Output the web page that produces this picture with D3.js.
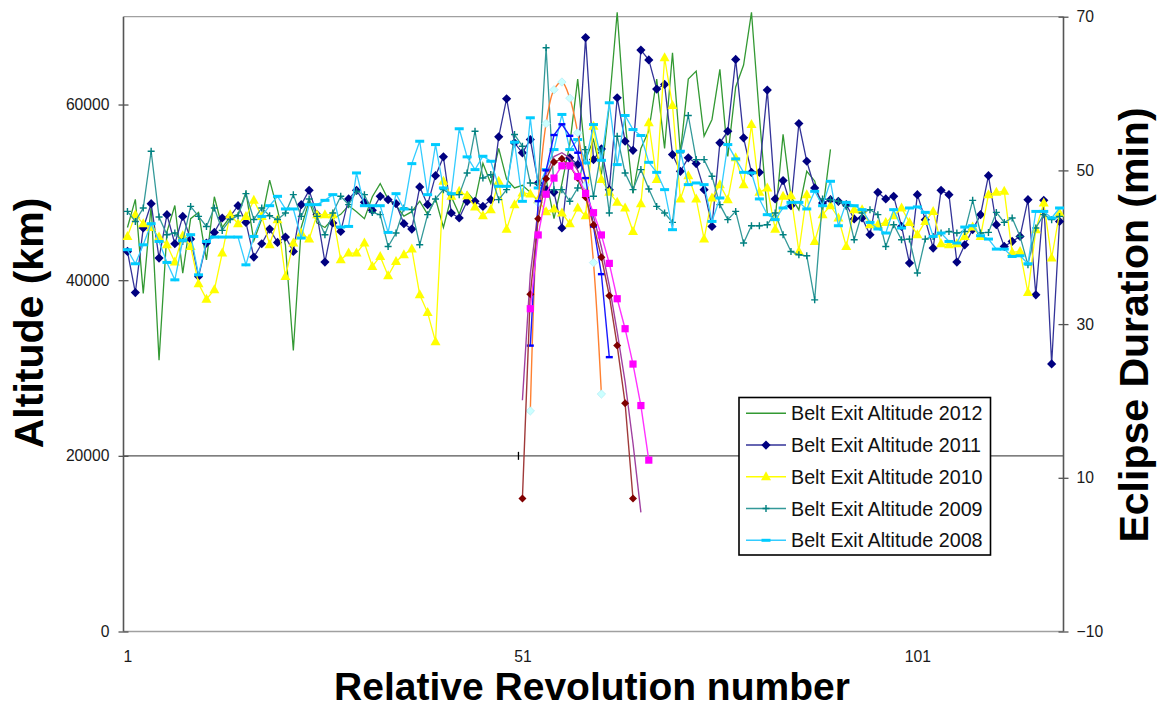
<!DOCTYPE html>
<html>
<head>
<meta charset="utf-8">
<script src="https://cdn.jsdelivr.net/npm/d3@7"></script>
<style>
body { margin: 0; background: #fff; }
text { font-family: "Liberation Sans", Arial, sans-serif; }
</style>
</head>
<body>
<svg id="drawsvg" width="1161" height="709"></svg>
<script>
// belt exit altitude (km) per relative revolution, starting at rev 1
var alt2012 = [46000,49200,38500,48500,30900,45500,48500,40800,47000,47700,
  42300,49500,46000,47200,47500,50000,44500,47000,51400,48000,
  44000,32000,46000,49000,46500,46000,47000,47500,48500,47800,
  47000,49500,51000,49200,48500,47300,47800,49000,47500,49300,
  46000,49500,47500,50000,49000,53300,51000,55000,51500,50500,
  50800,50000,49000,51500,47000,51000,55500,62900,53700,56000,
  52000,60000,70500,58000,49900,55000,57000,62900,55000,65900,
  54500,62900,63800,56400,58300,64000,54100,62000,64500,70500,
  58700,47600,46900,56600,49500,48000,52400,51300,47800,54900];

var alt2011 = [43270,38590,45940,48710,42520,47460,44150,47260,44680,40420,
  44230,45440,47080,47260,48480,46580,42630,44150,45820,44300,
  44910,43270,48600,50230,47460,42060,46510,45550,49250,50230,
  48860,47950,49550,49170,48710,46430,45820,50620,48600,51900,
  54040,47650,47080,48980,48980,48400,49170,56320,60660,55640,
  54500,56010,51070,50310,50000,45940,53930,53160,67620,53730,
  54950,50310,60770,55820,54790,66200,65080,61760,62290,54300,
  52400,53930,53280,50310,46120,55640,56960,65140,56210,52280,
  52280,61640,49250,51340,48480,57840,53540,50500,48790,49170,
  48980,48600,46970,47080,45180,50000,49250,49550,46120,41950,
  49740,46890,43660,50230,49740,42060,44030,45760,47460,51900,
  46320,43840,44410,44980,49170,38330,49090,30460,46690];

var alt2010 = [44980,47460,46430,46010,44910,44030,42060,45060,43840,39590,
  37840,38900,43090,47460,46430,47260,49090,47260,44030,46870,
  40420,44230,45370,44680,47460,47460,47460,42320,43090,43090,
  44230,41560,42700,40500,42130,42890,43540,38330,36310,33000,
  51260,49550,50120,49620,48340,47340,48030,51260,45800,48600,
  49930,49820,49170,47800,48110,47650,46430,48220,47340,57530,
  51450,50000,48860,48220,45550,48710,57920,51450,65330,59890,
  49250,51900,49250,44680,49360,50880,49170,53930,50880,57720,
  50000,50500,45800,49550,49620,43270,49740,44410,47460,48480,
  47080,43840,48030,48030,46320,46320,46580,47340,48220,46580,
  45180,46690,47830,44150,44030,44150,44980,46050,44980,49740,
  50000,50120,43160,43270,38590,45750,48790,42520,47650];

var alt2009 = [47830,46690,48220,54680,47190,45180,45370,44410,48400,47260,
  46120,48220,45670,46890,47340,49850,46910,48220,47340,46910,
  47650,49740,47260,49250,47260,45180,47650,49550,48600,50120,
  49740,47720,47460,43840,45370,48220,48030,44030,47460,49250,
  50310,49740,49740,52210,56960,51640,52020,49170,50310,56580,
  55250,51070,50960,66470,50310,50310,48980,50500,54870,49550,
  54790,47650,56390,52210,50310,52590,50390,48400,47650,46580,
  54500,58750,53730,53730,51830,48600,46890,47830,44230,46200,
  46200,46320,47650,45180,43270,42890,42780,37760,49250,49170,
  48980,48400,44610,47650,48030,47460,43840,46320,44610,44680,
  40810,44680,44980,45370,45550,45370,45550,49090,45370,45440,
  47720,46580,47080,44980,41750,45940,47460,46890,47260];

var alt2008 = [43470,41870,44030,46430,44410,42020,40040,44530,45180,40610,
  44410,44910,44910,44910,44910,41750,44980,47260,48480,49550,
  48110,48110,44800,48600,48600,49090,49740,46050,46120,52210,
  48480,48480,48480,45440,49850,48110,53270,55820,49740,55440,
  50500,49850,57240,54040,52590,54110,53540,50690,50690,55710,
  48980,58490,50500,52590,54870,58870,54870,56010,53350,57720,
  53650,60200,53160,58750,57150,56470,53420,52280,50310,45750,
  54680,50880,51070,50880,46690,49360,55440,53810,52280,52210,
  49250,47460,46890,48220,48860,48860,48110,50120,48480,51260,
  46200,48860,48480,48030,46580,45830,45370,48030,45940,48220,
  48340,47720,44980,45370,44410,44230,46050,46200,45060,44680,
  43540,43540,42700,42780,41870,47830,47830,47080,48220];

// eclipse duration (min), secondary axis; first value sits at the given rev
var eclDarkRed = [7.3,33.9,43.7,48.9,51.1,51.5,50.6,49.0,46.5,42.9,38.7,33.7,27.2,19.7,7.3];
var eclDarkRedStart = 51;
var eclMagenta = [32.0,41.6,46.9,49.0,50.6,50.6,49.2,47.0,44.5,41.6,37.9,33.3,29.4,24.8,19.4,12.3];
var eclMagentaStart = 52;
var eclOrange = [18.7,45.8,56.1,60.5,61.5,59.4,54.9,48.1,38.0,20.9];
var eclOrangeStart = 52;
var eclBlue = [27.2,46.0,50.0,54.6,56.0,54.5,52.3,49.0,42.7,36.5,25.7];
var eclBlueStart = 52;
var eclPurple = [20.1,36.5,45.0,49.5,51.8,52.3,51.6,50.0,47.5,44.0,40.0,35.0,29.0,22.5,14.5,5.5];
var eclPurpleStart = 51;

var refAlt = 20000;
var refMarkRev = 50.5;

var leftTicks = [0, 20000, 40000, 60000];
var rightTicks = [-10, 10, 30, 50, 70];
var xTicks = [1, 51, 101];
var nRev = 119;

var margin = {left: 123.5, right: 1063.5, top: 16.7, bottom: 631.5};

var svg = d3.select('#drawsvg');

var x = d3.scaleLinear().domain([0.5, nRev + 0.5]).range([margin.left, margin.right]);
var yLeft = d3.scaleLinear().domain([0, 70000]).range([margin.bottom, margin.top]);
var yRight = d3.scaleLinear().domain([-10, 70]).range([margin.bottom, margin.top]);

function addMarker(g, shape, cx, cy, color){
  if(shape == 'diamond'){
    var r = 4.6;
    g.append('path')
     .attr('d', 'M' + cx + ',' + (cy - r) + 'L' + (cx + r) + ',' + cy + 'L' + cx + ',' + (cy + r) + 'L' + (cx - r) + ',' + cy + 'Z')
     .style('fill', color);
  }else if(shape == 'smalldiamond'){
    var r = 4;
    g.append('path')
     .attr('d', 'M' + cx + ',' + (cy - r) + 'L' + (cx + r) + ',' + cy + 'L' + cx + ',' + (cy + r) + 'L' + (cx - r) + ',' + cy + 'Z')
     .style('fill', color);
  }else if(shape == 'palediamond'){
    var r = 4.2;
    g.append('path')
     .attr('d', 'M' + cx + ',' + (cy - r) + 'L' + (cx + r) + ',' + cy + 'L' + cx + ',' + (cy + r) + 'L' + (cx - r) + ',' + cy + 'Z')
     .style('fill', color)
     .style('stroke', '#a8e8f4')
     .style('stroke-width', 0.6);
  }else if(shape == 'triangle'){
    g.append('path')
     .attr('d', 'M' + cx + ',' + (cy - 5.5) + 'L' + (cx + 5) + ',' + (cy + 3.5) + 'L' + (cx - 5) + ',' + (cy + 3.5) + 'Z')
     .style('fill', color);
  }else if(shape == 'square'){
    g.append('rect')
     .attr('x', cx - 3.6).attr('y', cy - 3.6)
     .attr('width', 7.2).attr('height', 7.2)
     .style('fill', color);
  }else if(shape == 'plus'){
    g.append('path')
     .attr('d', 'M' + (cx - 3.5) + ',' + cy + 'H' + (cx + 3.5) + 'M' + cx + ',' + (cy - 3.5) + 'V' + (cy + 3.5))
     .style('stroke', color)
     .style('stroke-width', 1.4)
     .style('fill', 'none');
  }else if(shape == 'dash'){
    g.append('rect')
     .attr('x', cx - 4.5).attr('y', cy - 1.5)
     .attr('width', 9).attr('height', 3)
     .style('fill', color);
  }else if(shape == 'smalldash'){
    g.append('rect')
     .attr('x', cx - 3.5).attr('y', cy - 1.2)
     .attr('width', 7).attr('height', 2.4)
     .style('fill', color);
  }
}

function toPoints(values, start){
  return values.map(function(v, i){ return [start + i, v]; });
}

var beltSeries = [
  {name: 'Belt Exit Altitude 2012', pts: toPoints(alt2012, 1), line: '#339933', marker: null, mcolor: null},
  {name: 'Belt Exit Altitude 2011', pts: toPoints(alt2011, 1), line: '#333399', marker: 'diamond', mcolor: '#000080'},
  {name: 'Belt Exit Altitude 2010', pts: toPoints(alt2010, 1), line: '#ffff00', marker: 'triangle', mcolor: '#ffff00'},
  {name: 'Belt Exit Altitude 2009', pts: toPoints(alt2009, 1), line: '#339999', marker: 'plus', mcolor: '#008080'},
  {name: 'Belt Exit Altitude 2008', pts: toPoints(alt2008, 1), line: '#33ccff', marker: 'dash', mcolor: '#00ccff'}
];

var eclSeries = [
  {pts: toPoints(eclPurple, eclPurpleStart), line: '#a040a0', marker: null, mcolor: null, smooth: false},
  {pts: toPoints(eclOrange, eclOrangeStart), line: '#ff8030', marker: 'palediamond', mcolor: '#ccffff', smooth: true},
  {pts: toPoints(eclBlue, eclBlueStart), line: '#1a1aff', marker: 'smalldash', mcolor: '#0000ff', smooth: false},
  {pts: toPoints(eclDarkRed, eclDarkRedStart), line: '#a03a3a', marker: 'smalldiamond', mcolor: '#800000', smooth: false},
  {pts: toPoints(eclMagenta, eclMagentaStart), line: '#ff33ff', marker: 'square', mcolor: '#ff00ff', smooth: false}
];

// plot frame
svg.append('line')
   .attr('x1', margin.left).attr('x2', margin.right)
   .attr('y1', margin.top).attr('y2', margin.top)
   .style('stroke', '#a0a0a0').style('stroke-width', 1.3);
svg.append('line')
   .attr('x1', margin.left).attr('x2', margin.right)
   .attr('y1', margin.bottom).attr('y2', margin.bottom)
   .style('stroke', '#a0a0a0').style('stroke-width', 1.3);

// reference line at 20000 km
svg.append('line')
   .attr('x1', margin.left).attr('x2', margin.right)
   .attr('y1', yLeft(refAlt)).attr('y2', yLeft(refAlt))
   .style('stroke', '#555').style('stroke-width', 1.4);
svg.append('line')
   .attr('x1', x(refMarkRev)).attr('x2', x(refMarkRev))
   .attr('y1', yLeft(refAlt) - 4).attr('y2', yLeft(refAlt) + 4)
   .style('stroke', '#000').style('stroke-width', 1.3);

// left axis
var gl = svg.append('g')
   .attr('transform', 'translate(' + margin.left + ',0)')
   .call(d3.axisLeft(yLeft).tickValues(leftTicks).tickSize(5).tickPadding(9).tickFormat(d3.format('d')));
gl.select('.domain').remove();
gl.selectAll('.tick line').attr('x1', 5).style('stroke', '#555').style('stroke-width', 1.3);
gl.selectAll('.tick text').style('font-size', '15.7px').style('fill', '#1a1a1a').style('font-family', '"Liberation Sans", Arial, sans-serif');
svg.append('line')
   .attr('x1', margin.left).attr('x2', margin.left)
   .attr('y1', margin.top).attr('y2', margin.bottom)
   .style('stroke', '#555').style('stroke-width', 1.6);

// right axis
var gr = svg.append('g')
   .attr('transform', 'translate(' + margin.right + ',0)')
   .call(d3.axisRight(yRight).tickValues(rightTicks).tickSize(5).tickPadding(8));
gr.select('.domain').remove();
gr.selectAll('.tick line').attr('x1', -5).style('stroke', '#555').style('stroke-width', 1.3);
gr.selectAll('.tick text').style('font-size', '15.7px').style('fill', '#1a1a1a').style('font-family', '"Liberation Sans", Arial, sans-serif');
svg.append('line')
   .attr('x1', margin.right).attr('x2', margin.right)
   .attr('y1', margin.top).attr('y2', margin.bottom)
   .style('stroke', '#555').style('stroke-width', 1.6);

// bottom axis labels
var gb = svg.append('g')
   .attr('transform', 'translate(0,' + margin.bottom + ')')
   .call(d3.axisBottom(x).tickValues(xTicks).tickSize(0).tickPadding(19).tickFormat(d3.format('d')));
gb.select('.domain').remove();
gb.selectAll('.tick text').style('font-size', '15.7px').style('fill', '#1a1a1a').style('font-family', '"Liberation Sans", Arial, sans-serif');

// belt series
var beltLine = d3.line()
   .x(function(d){ return x(d[0]); })
   .y(function(d){ return yLeft(d[1]); });

for(var i = 0; i < beltSeries.length; i ++){
  var s = beltSeries[i];
  var g = svg.append('g').attr('class', 'belt');
  g.append('path')
   .attr('d', beltLine(s.pts))
   .style('fill', 'none')
   .style('stroke', s.line)
   .style('stroke-width', 1.3)
   .style('stroke-linejoin', 'miter');
  if(s.marker){
    for(var j = 0; j < s.pts.length; j ++)
      addMarker(g, s.marker, x(s.pts[j][0]), yLeft(s.pts[j][1]), s.mcolor);
  }
}

// eclipse duration series on the right axis
for(var i = 0; i < eclSeries.length; i ++){
  var s = eclSeries[i];
  var line = d3.line()
     .x(function(d){ return x(d[0]); })
     .y(function(d){ return yRight(d[1]); })
     .curve(s.smooth ? d3.curveCatmullRom : d3.curveLinear);
  var g = svg.append('g').attr('class', 'eclipse');
  g.append('path')
   .attr('d', line(s.pts))
   .style('fill', 'none')
   .style('stroke', s.line)
   .style('stroke-width', 1.4);
  if(s.marker){
    for(var j = 0; j < s.pts.length; j ++)
      addMarker(g, s.marker, x(s.pts[j][0]), yRight(s.pts[j][1]), s.mcolor);
  }
}

// legend
var legend = svg.append('g');
legend.append('rect')
   .attr('x', 739).attr('y', 397.5)
   .attr('width', 251.5).attr('height', 157.5)
   .style('fill', '#fff')
   .style('stroke', '#000')
   .style('stroke-width', 1.6);
for(var i = 0; i < beltSeries.length; i ++){
  var s = beltSeries[i];
  var ly = 413.3 + i * 31.75;
  legend.append('line')
     .attr('x1', 746).attr('x2', 786)
     .attr('y1', ly).attr('y2', ly)
     .style('stroke', s.line).style('stroke-width', 1.4);
  if(s.marker)
    addMarker(legend, s.marker, 766, ly, s.mcolor);
  legend.append('text')
     .text(s.name)
     .attr('x', 791).attr('y', ly)
     .attr('dy', '0.36em')
     .style('font-size', '19.7px')
     .style('fill', '#111');
}

// axis titles
svg.append('text')
   .text('Altitude (km)')
   .attr('transform', 'translate(43,323) rotate(-90)')
   .attr('text-anchor', 'middle')
   .style('font-size', '41px')
   .style('font-weight', 'bold')
   .style('fill', '#000');

svg.append('text')
   .text('Eclipse Duration (min)')
   .attr('transform', 'translate(1148,325) rotate(-90)')
   .attr('text-anchor', 'middle')
   .style('font-size', '41px')
   .style('font-weight', 'bold')
   .style('fill', '#000');

svg.append('text')
   .text('Relative Revolution number')
   .attr('x', 592).attr('y', 700)
   .attr('text-anchor', 'middle')
   .style('font-size', '39px')
   .style('font-weight', 'bold')
   .style('fill', '#000');
</script>
</body>
</html>
